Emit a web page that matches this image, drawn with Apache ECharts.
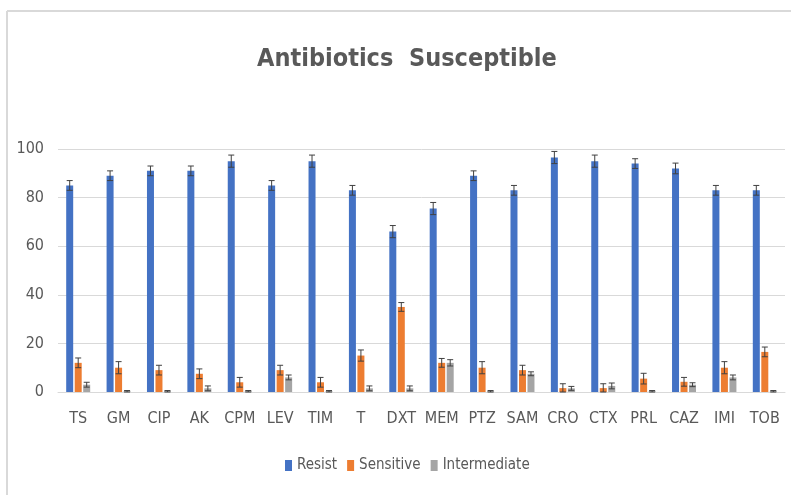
<!DOCTYPE html>
<html>
<head>
<meta charset="utf-8">
<script src="https://cdn.jsdelivr.net/npm/echarts@6/dist/echarts.min.js"></script>
<style>html,body{margin:0;padding:0;background:#fff}#c{width:791px;height:495px}</style>
</head>
<body>
<div id="c"></div>
<script>
var categories = ['TS','GM','CIP','AK','CPM','LEV','TIM','T','DXT','MEM','PTZ','SAM','CRO','CTX','PRL','CAZ','IMI','TOB'];
var resist       = [85, 89, 91, 91, 95, 85, 95, 83, 66, 75.5, 89, 83, 96.5, 95, 94, 92, 83, 83];
var resistErr    = [2, 2, 2, 2, 2.5, 2, 2.5, 2, 2.5, 2.5, 2, 2, 2.5, 2.5, 2, 2.2, 2, 2];
var sensitive    = [12, 10, 9, 7.5, 4, 9, 4, 15, 35, 12, 10, 9, 1.6, 1.6, 5.5, 4.2, 10, 16.5];
var sensitiveErr = [2, 2.5, 2, 2, 2, 2, 2, 2.3, 1.8, 1.8, 2.5, 2, 1.8, 1.8, 2.2, 1.8, 2.5, 2];
var intermediate = [3, 0.3, 0.3, 1.5, 0.3, 6, 0.3, 1.5, 1.5, 12, 0.3, 7.5, 1.5, 2.5, 0.3, 3, 6, 0.3];
var intermediateErr = [1, 0.3, 0.3, 1, 0.3, 1, 0.3, 1, 1, 1.3, 0.3, 0.8, 0.8, 1.2, 0.3, 0.8, 1, 0.3];
var yTicks = [0, 20, 40, 60, 80, 100];

var FONT = '"DejaVu Sans Condensed", "Liberation Sans", "Noto Sans", sans-serif';
var BAR_W = 7, GAP = 1.5;
var colors = ['#4472C4', '#ED7D31', '#A5A5A5'];
var names = ['Resist', 'Sensitive', 'Intermediate'];
var vals = [resist, sensitive, intermediate];
var errs = [resistErr, sensitiveErr, intermediateErr];

function errSeries(k) {
  var offset = (k - 1) * (BAR_W + GAP);
  return {
    type: 'custom',
    name: names[k] + ' err',
    silent: true,
    z: 5,
    data: vals[k].map(function (v, i) { return [i, v - errs[k][i], v + errs[k][i]]; }),
    encode: { x: 0, y: [1, 2] },
    renderItem: function (params, api) {
      var i = api.value(0);
      var lo = api.coord([i, Math.max(0, api.value(1))]);
      var hi = api.coord([i, api.value(2)]);
      var x = lo[0] + offset;
      var h = 3;
      var st = { stroke: '#404040', lineWidth: 1 };
      return {
        type: 'group',
        children: [
          { type: 'line', shape: { x1: x, y1: lo[1], x2: x, y2: hi[1] }, style: st },
          { type: 'line', shape: { x1: x - h, y1: hi[1], x2: x + h, y2: hi[1] }, style: st },
          { type: 'line', shape: { x1: x - h, y1: lo[1], x2: x + h, y2: lo[1] }, style: st }
        ]
      };
    }
  };
}

var series = [];
for (var k = 0; k < 3; k++) {
  series.push({
    type: 'bar',
    name: names[k],
    data: vals[k],
    barWidth: BAR_W,
    barGap: (GAP / BAR_W * 100) + '%',
    itemStyle: { color: colors[k] }
  });
}
for (var k2 = 0; k2 < 3; k2++) series.push(errSeries(k2));

var chart = echarts.init(document.getElementById('c'), null, { renderer: 'canvas' });
chart.setOption({
  animation: false,
  backgroundColor: '#fff',
  title: {
    text: 'Antibiotics  Susceptible',
    left: 257,
    top: 47,
    padding: 0,
    textStyle: { fontFamily: FONT, fontSize: 25, fontWeight: 'bold', color: '#595959' }
  },
  graphic: [
    { type: 'line', shape: { x1: 7, y1: 11, x2: 791, y2: 11 }, style: { stroke: '#d9d9d9', lineWidth: 2 } },
    { type: 'line', shape: { x1: 7, y1: 11, x2: 7, y2: 495 }, style: { stroke: '#d9d9d9', lineWidth: 2 } }
  ],
  legend: {
    data: names,
    bottom: 17,
    left: 280,
    itemWidth: 7,
    itemHeight: 11,
    itemGap: 10,
    icon: 'rect',
    textStyle: { fontFamily: FONT, fontSize: 15, color: '#595959' }
  },
  grid: { left: 58, right: 6, top: 149, bottom: 103 },
  xAxis: {
    type: 'category',
    data: categories,
    axisLine: { lineStyle: { color: '#d9d9d9' } },
    axisTick: { show: false },
    axisLabel: { interval: 0, fontFamily: FONT, fontSize: 16, color: '#595959', margin: 19 }
  },
  yAxis: {
    type: 'value',
    min: yTicks[0],
    max: yTicks[yTicks.length - 1],
    interval: yTicks[1] - yTicks[0],
    axisLine: { show: false },
    axisTick: { show: false },
    splitLine: { lineStyle: { color: '#d9d9d9' } },
    axisLabel: { fontFamily: FONT, fontSize: 16, color: '#595959', margin: 14 }
  },
  series: series
});
</script>
</body>
</html>
